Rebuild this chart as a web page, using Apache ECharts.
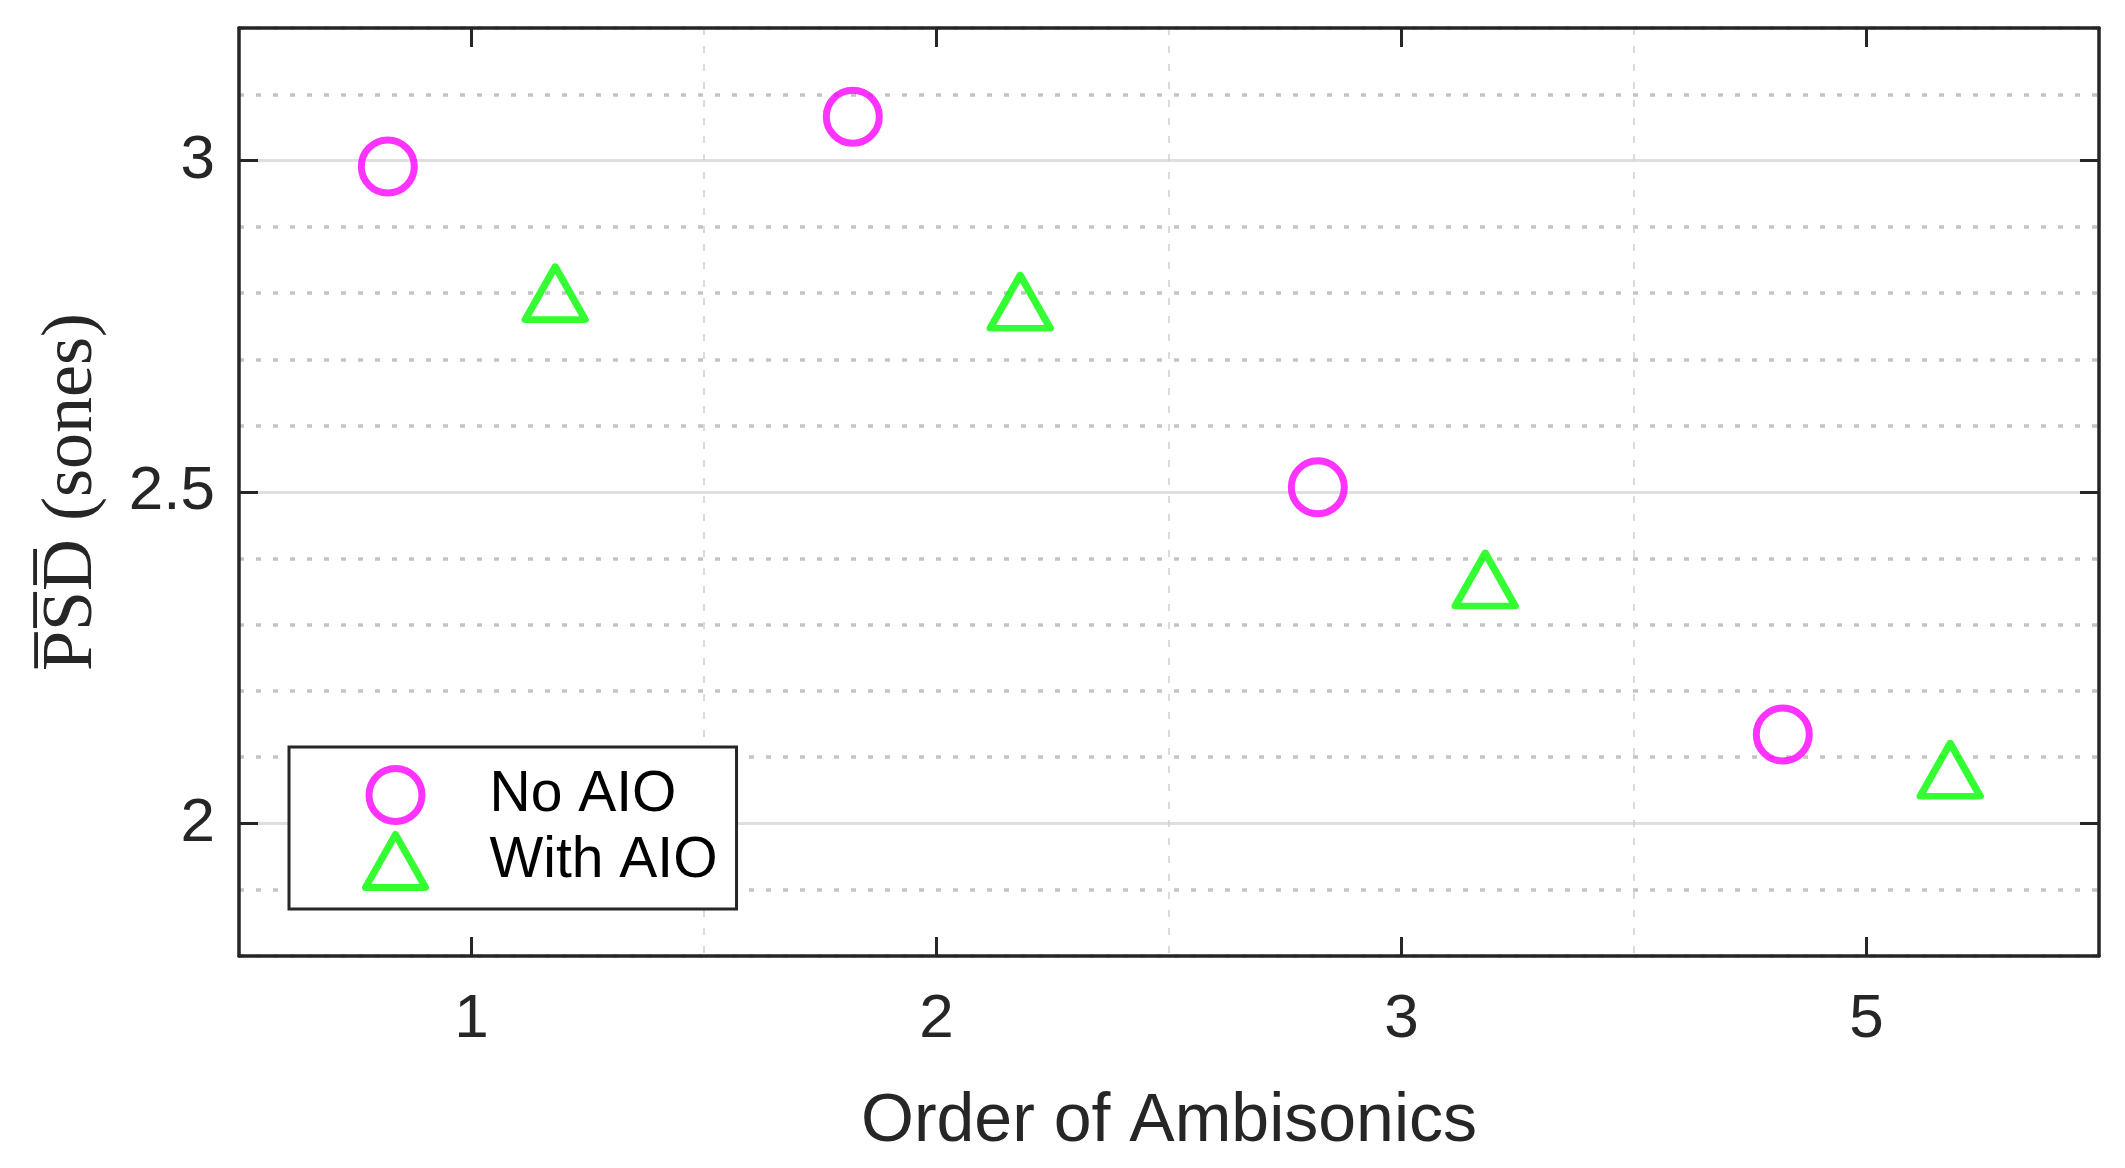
<!DOCTYPE html>
<html lang="en">
<head>
    <meta charset="UTF-8">
    <title>PSD vs order</title>
    <style>
        html, body {margin: 0; padding: 0; background: #fff;}
    </style>
</head>
<body>
<div id="main" style="width: 2125px;height:1168px;"></div>
</body>
<script src="https://cdn.jsdelivr.net/npm/echarts@6.0.0/dist/echarts.min.js"></script>
<script>

// data
const categories = ['1', '2', '3', '5']
const noAIO = [2.991, 3.066, 2.507, 2.134]
const withAIO = [2.800, 2.787, 2.368, 2.081]
const yTicks = [2, 2.5, 3]

const OFFSET = 0.18
const AXIS_COLOR = '#262626'
const T = 'rgba(0,0,0,0)'

let chartDom = document.getElementById('main');
let myChart = echarts.init(chartDom);

let tick = {
    show: true,
    inside: true,
    length: 19,
    lineStyle: {color: AXIS_COLOR, width: 3}
}
let line = {show: true, onZero: false, lineStyle: {color: AXIS_COLOR, width: 3.5}}

let option = {
    animation: false,
    backgroundColor: '#fff',
    grid: {left: 239, right: 26, top: 28, bottom: 212},
    legend: {
        orient: 'vertical',
        left: 289,
        top: 747,
        itemWidth: 60,
        itemHeight: 53,
        itemGap: 6,
        padding: [18, 19, 18, 73],
        borderColor: AXIS_COLOR,
        borderWidth: 3,
        borderRadius: 0,
        backgroundColor: '#fff',
        selectedMode: false,
        itemStyle: {borderWidth: 7},
        textStyle: {
            fontSize: 57, fontFamily: 'Liberation Sans', color: '#000', lineHeight: 53,
            padding: [0, 0, 0, 59]
        },
        data: ['No AIO', 'With AIO']
    },
    xAxis: [
        {
            type: 'category',
            data: categories,
            position: 'bottom',
            boundaryGap: true,
            axisLine: line,
            axisTick: Object.assign({}, tick, {alignWithLabel: true}),
            axisLabel: {margin: 33, fontSize: 62, fontFamily: 'Liberation Sans', color: AXIS_COLOR},
            splitLine: {show: true, interval: 0, lineStyle: {color: '#cfcfcf', width: 1.5, type: [7, 11]}},
            name: 'Order of Ambisonics',
            nameLocation: 'middle',
            nameGap: 132,
            nameTextStyle: {fontSize: 68, fontFamily: 'Liberation Sans', color: AXIS_COLOR}
        },
        {
            type: 'category',
            data: categories,
            position: 'top',
            boundaryGap: true,
            axisLine: line,
            axisTick: Object.assign({}, tick, {alignWithLabel: true}),
            axisLabel: {show: false},
            splitLine: {show: false}
        },
        {
            type: 'value',
            position: 'bottom',
            min: 0.5,
            max: 4.5,
            show: false
        }
    ],
    yAxis: [
        {
            // minor dotted grid every 0.1
            type: 'value',
            position: 'left',
            min: 1.8,
            max: 3.2,
            interval: 0.1,
            axisLine: line,
            axisTick: {show: false},
            axisLabel: {show: false},
            splitLine: {
                show: true,
                lineStyle: {color: ['#c4c4c4', '#c4c4c4', T, '#c4c4c4', '#c4c4c4'], width: 3.5, type: [5, 12]}
            }
        },
        {
            // major solid grid
            type: 'value',
            position: 'left',
            min: 1.8,
            max: 3.2,
            interval: 0.1,
            axisLine: {show: false},
            axisTick: {show: false},
            axisLabel: {show: false},
            splitLine: {
                show: true,
                lineStyle: {color: [T, T, '#dfdfdf', T, T], width: 3, type: 'solid'}
            }
        },
        {
            type: 'value',
            position: 'left',
            min: 1.8,
            max: 3.2,
            axisLine: {show: false},
            axisTick: Object.assign({}, tick, {customValues: yTicks}),
            axisLabel: {
                customValues: yTicks,
                margin: 24,
                fontSize: 62,
                fontFamily: 'Liberation Sans',
                color: AXIS_COLOR,
                formatter: v => String(v)
            },
            splitLine: {show: false},
            name: 'P\u0305S\u0305D\u0305 (sones)',
            nameLocation: 'middle',
            nameGap: 131,
            nameTextStyle: {fontSize: 72, fontFamily: 'Liberation Serif', color: AXIS_COLOR}
        },
        {
            type: 'value',
            position: 'right',
            min: 1.8,
            max: 3.2,
            axisLine: line,
            axisTick: Object.assign({}, tick, {customValues: yTicks}),
            axisLabel: {show: false},
            splitLine: {show: false}
        }
    ],
    series: [
        {
            name: 'No AIO',
            type: 'scatter',
            xAxisIndex: 2,
            yAxisIndex: 0,
            symbol: 'circle',
            symbolSize: 53,
            itemStyle: {color: T, borderColor: '#ff00ff', borderWidth: 7},
            emphasis: {disabled: true},
            data: noAIO.map((v, i) => [i + 1 - OFFSET, v])
        },
        {
            name: 'With AIO',
            type: 'scatter',
            xAxisIndex: 2,
            yAxisIndex: 0,
            symbol: 'triangle',
            symbolSize: [60, 53],
            itemStyle: {color: T, borderColor: '#00ff00', borderWidth: 7, borderJoin: 'round'},
            emphasis: {disabled: true},
            data: withAIO.map((v, i) => [i + 1 + OFFSET, v])
        }
    ]
}

option && myChart.setOption(option);

</script>
</html>
